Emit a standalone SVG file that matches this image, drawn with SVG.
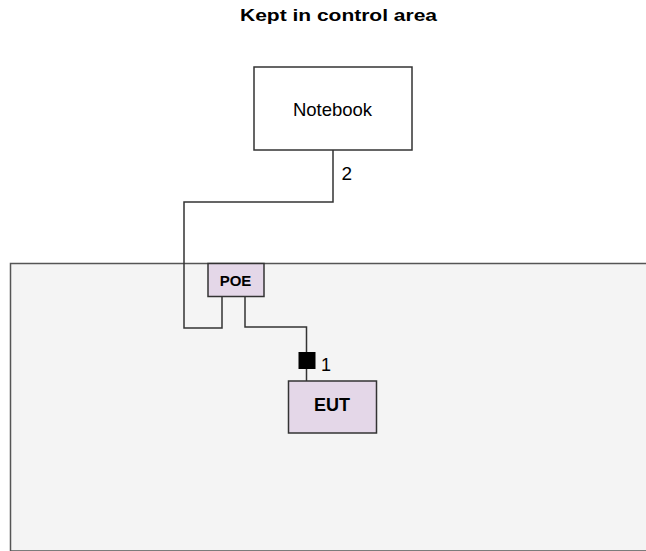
<svg xmlns="http://www.w3.org/2000/svg" width="646" height="551" viewBox="0 0 646 551">
<style>
text{font-family:"Liberation Sans",Arial,sans-serif;fill:#000}
.node{stroke:#333;stroke-width:1.5}
.wire{fill:none;stroke:#333;stroke-width:1.5}
</style>
<rect width="646" height="551" fill="#fff"/>
<g id="area">
<rect x="10.5" y="263.5" width="650" height="287.5" fill="#f4f4f4" stroke="#555" stroke-width="1.5"/>
</g>
<text x="338.5" y="21" font-size="16" font-weight="bold" text-anchor="middle" textLength="197" lengthAdjust="spacingAndGlyphs">Kept in control area</text>
<g id="connectors">
<polyline class="wire" points="333,150 333,202 184,202 184,328 222,328 222,297"/>
<polyline class="wire" points="245,297 245,327 306.5,327 306.5,381"/>
<rect x="298.5" y="352" width="17" height="17" fill="#000"/>
<text x="341.5" y="180" font-size="19">2</text>
<text x="321" y="371" font-size="18">1</text>
</g>
<g id="notebook">
<rect class="node" x="254" y="67" width="158" height="83" fill="#fff"/>
<text x="332.5" y="115.5" font-size="18.5" text-anchor="middle">Notebook</text>
</g>
<g id="poe">
<rect class="node" x="208" y="263.5" width="56" height="33" fill="#e4d7e8"/>
<text x="235.5" y="285.5" font-size="15" font-weight="bold" text-anchor="middle">POE</text>
</g>
<g id="eut">
<rect class="node" x="288.5" y="381" width="88" height="52" fill="#e4d7e8"/>
<text x="332" y="410.5" font-size="18" font-weight="bold" text-anchor="middle">EUT</text>
</g>
</svg>
